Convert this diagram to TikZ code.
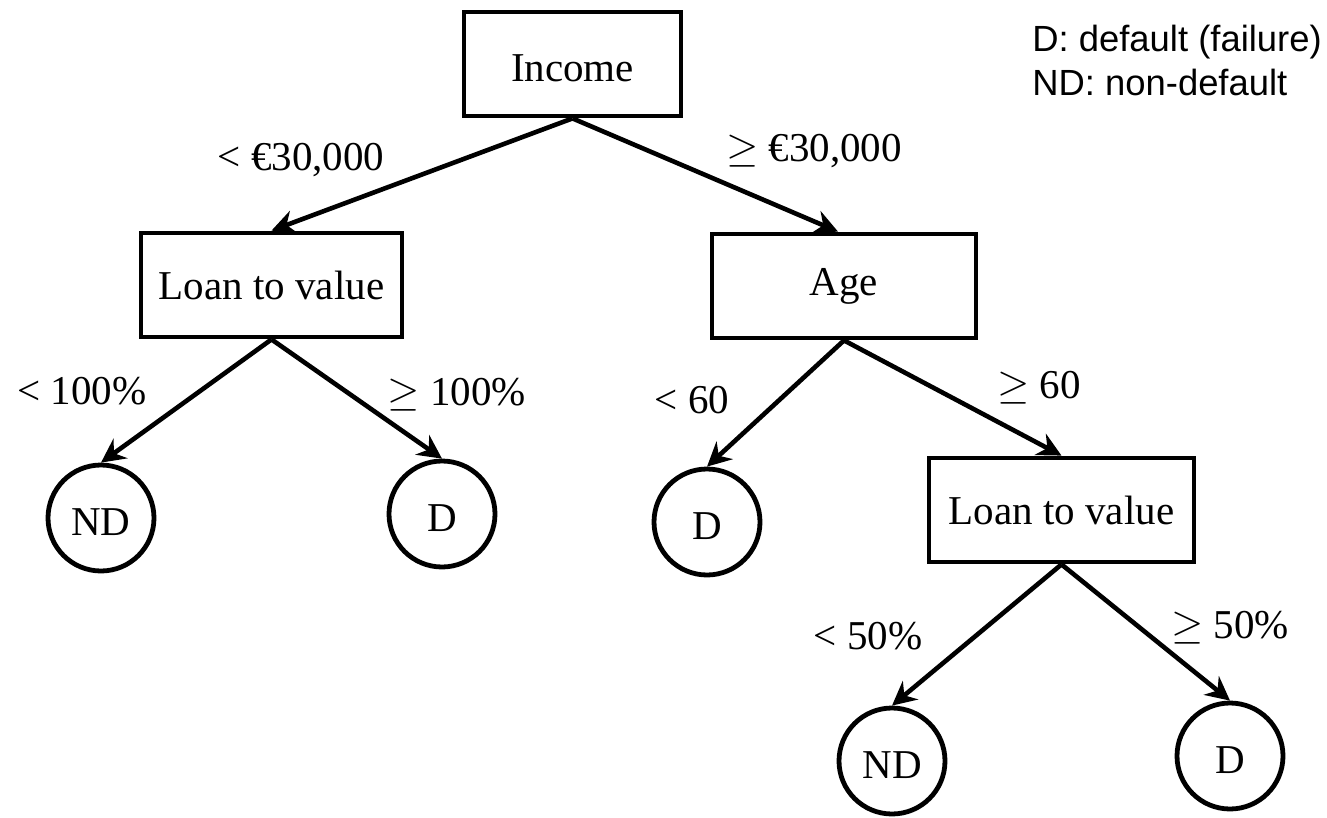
\documentclass[tikz,border=0pt]{standalone}
\usepackage{fontspec}
\setmainfont{Liberation Serif}
\newfontfamily\legendfont{Liberation Sans}
\usetikzlibrary{arrows.meta}
\newcommand{\lowtxt}[1]{\vphantom{#1}\smash{\raisebox{-2pt}{#1}}}
\begin{document}
\begin{tikzpicture}[x=0.5pt,y=-0.5pt,
  every node/.style={font=\fontsize{20.5pt}{24pt}\selectfont},
  tbox/.style={draw,line width=2.4pt,minimum height=52pt,inner sep=0pt},
  leaf/.style={draw,circle,line width=2.4pt,minimum size=53pt,inner sep=0pt},
  conn/.style={line width=2.3pt,-{Stealth[length=12pt,width=12pt,inset=4pt]}},
  lbl/.style={inner sep=0pt},
  legend/.style={inner sep=0pt,anchor=base west,font=\legendfont\fontsize{18.2pt}{21pt}\selectfont}]
\useasboundingbox (0,0) rectangle (1327,818);
\node[tbox,minimum width=108.5pt] (income) at (572.5,64) {\lowtxt{Income}};
\node[tbox,minimum width=130.5pt] (ltvA) at (271.5,285) {Loan to value};
\node[tbox,minimum width=132pt] (age) at (844,286) {Age};
\node[tbox,minimum width=132.5pt] (ltvB) at (1061.5,510) {Loan to value};
\node[leaf] (ndA) at (101,518) {\lowtxt{ND}};
\node[leaf] (dA) at (442,514) {\lowtxt{D}};
\node[leaf] (dB) at (707,522) {\lowtxt{D}};
\node[leaf] (ndB) at (892,761) {\lowtxt{ND}};
\node[leaf] (dC) at (1230,756) {\lowtxt{D}};
\draw[conn] (income.south) -- (ltvA.north);
\draw[conn] (income.south) -- ([xshift=-3pt]age.north);
\draw[conn] (ltvA.south) -- (ndA.north);
\draw[conn] (ltvA.south) -- (dA.north);
\draw[conn] (age.south) -- (dB.north);
\draw[conn] (age.south) -- (ltvB.north);
\draw[conn] (ltvB.south) -- (ndB.north);
\draw[conn] (ltvB.south) -- (dC.north);
\node[lbl] (l1) at (301,160) {< €30,000};
\node[lbl] (l2) at (814,151) {$\geq$ €30,000};
\node[lbl] (l3) at (82,391) {< 100\%};
\node[lbl] (l4) at (457,395) {$\geq$ 100\%};
\node[lbl] (l5) at (692,400) {< 60};
\node[lbl] (l6) at (1039,388) {$\geq$ 60};
\node[lbl] (l7) at (868,636) {< 50\%};
\node[lbl] (l8) at (1230,628) {$\geq$ 50\%};
\node[legend] (lg1) at (1032,52) {D: default (failure)};
\node[legend] (lg2) at (1032,96) {ND: non-default};
\end{tikzpicture}
\end{document}
